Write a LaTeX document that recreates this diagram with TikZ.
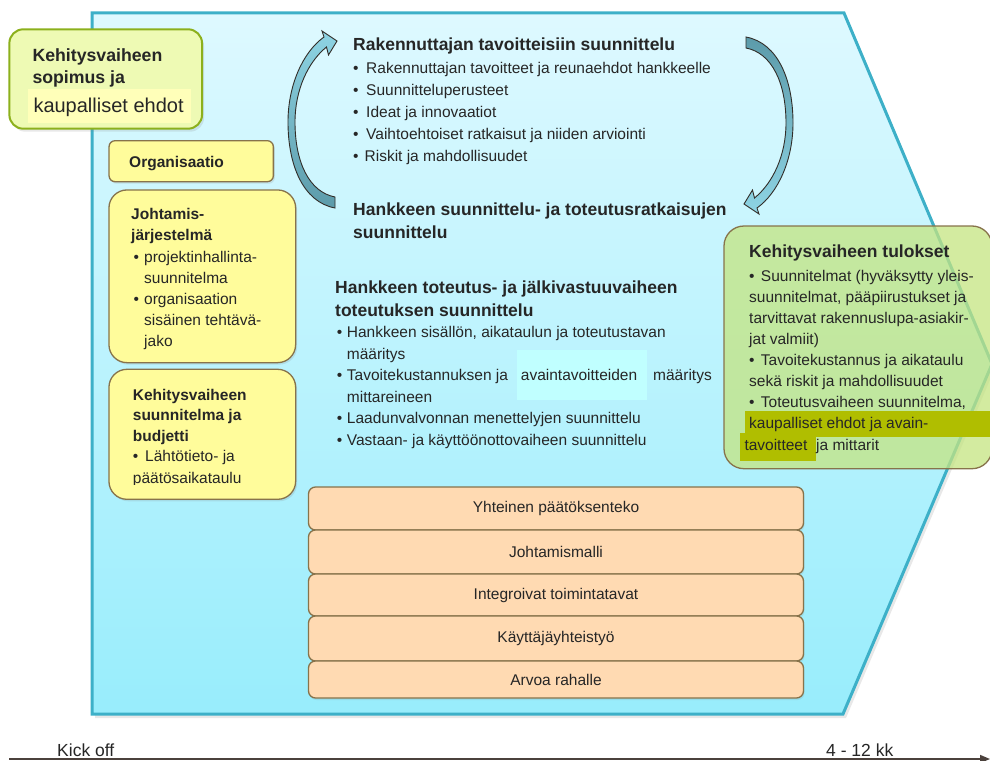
\documentclass[tikz,border=0pt]{standalone}
\usepackage{fontspec}
\setmainfont{Liberation Sans}
\usepackage{tikz}
\usetikzlibrary{positioning}
\usetikzlibrary{shadows}
\usetikzlibrary{arrows.meta}

\definecolor{chevline}{RGB}{61,176,200}
\definecolor{chevtop}{RGB}{222,249,255}
\definecolor{chevbot}{RGB}{152,237,252}
\definecolor{boxyellow}{RGB}{255,252,155}
\definecolor{boxbrown}{RGB}{135,115,75}
\definecolor{boxpeach}{RGB}{255,218,178}
\definecolor{limefill}{RGB}{238,250,180}
\definecolor{limeline}{RGB}{140,176,28}
\definecolor{resultfill}{RGB}{196,228,128}
\definecolor{olivemark}{RGB}{176,190,0}
\definecolor{cyanmark}{RGB}{192,255,255}
\definecolor{yellowmark}{RGB}{255,255,185}
\definecolor{arrowdark}{RGB}{92,155,170}
\definecolor{arrowlight}{RGB}{142,212,228}
\definecolor{arrowline}{RGB}{50,45,40}
\definecolor{textdark}{RGB}{38,38,38}
\definecolor{axisline}{RGB}{75,65,60}

\newcommand{\bul}[1][5pt]{\textbullet\hspace{#1}}

\begin{document}
\begin{tikzpicture}[x=1pt, y=-1pt,
        every node/.style = {text=textdark},
        txt/.style 2 args = {
            anchor=north west,
            inner sep=0pt,
            align=left,
            font=\fontsize{#1}{#2}\selectfont
        },
        bold/.style 2 args = {
            anchor=north west,
            inner sep=0pt,
            align=left,
            font=\bfseries\fontsize{#1}{#2}\selectfont
        },
        word/.style = {
            anchor=base west,
            inner sep=0pt,
            font=\fontsize{#1}{#1}\selectfont
        },
        word/.default = 15.5,
        boldword/.style = {
            word,
            font=\bfseries\fontsize{#1}{#1}\selectfont
        },
        boldword/.default = 17.5,
        yellowbox/.style = {
            draw=boxbrown,
            fill=boxyellow,
            line width=1.3pt,
            rounded corners=#1,
            inner sep=0pt,
            drop shadow={shadow xshift=1.5pt, shadow yshift=-2pt, opacity=0.18}
        },
        yellowbox/.default = 18pt,
        contractbox/.style = {
            draw=limeline,
            fill=limefill,
            line width=2pt,
            rounded corners=14pt,
            inner sep=0pt,
            drop shadow={shadow xshift=2pt, shadow yshift=-3pt, opacity=0.18}
        },
        resultbox/.style = {
            draw=boxbrown,
            fill=resultfill,
            fill opacity=0.75,
            line width=1.3pt,
            rounded corners=20pt,
            inner sep=0pt
        },
        peachbox/.style = {
            draw=boxbrown,
            fill=boxpeach,
            line width=1.3pt,
            rounded corners=7pt,
            minimum width=495pt,
            outer sep=0pt,
            inner sep=0pt,
            font=\fontsize{15.5}{18}\selectfont,
            drop shadow={shadow xshift=1pt, shadow yshift=-2pt, opacity=0.15}
        },
        loop/.style = {
            draw=arrowline,
            line width=0.9pt
        },
        node distance = 0pt
        ]
%
        \clip (0,0) rectangle (990,760);
%
% phase
        \path[draw=chevline, line width=3pt, top color=chevtop, bottom color=chevbot,
              drop shadow={shadow xshift=3pt, shadow yshift=-4pt, opacity=0.18}]
              (92,13) -- (844,13) -- (992,364) -- (843,714) -- (92,714) -- cycle;
%
% contract
        \node[contractbox, minimum width=192.7pt, minimum height=99.4pt] (contract) at (105.7,79) {};
        \fill[yellowmark] (28.3,89.3) rectangle (190.7,122.7);
        \node[bold={17.7}{21.6}] (contracthead) at (32.3,46.6) {\strut Kehitysvaiheen\\sopimus ja};
        \node[word=20] (contractterms) at (33.3,112.7) {kaupalliset ehdot};
%
% left column
        \node[yellowbox=6pt, minimum width=164.3pt, minimum height=41pt] (org) at (191.2,161.2) {};
        \node[boldword=15.5] (orgtext) at (129,167.3) {Organisaatio};
%
        \node[yellowbox, minimum width=186.7pt, minimum height=172.7pt] (mgmt) at (202.3,276.3) {};
        \node[bold={15.5}{21}] (mgmthead) at (131,204.6) {\strut Johtamis-\\järjestelmä};
        \node[txt={15.5}{21}] (mgmtlist) at (133.3,248) {\strut\bul[5.3pt]projektinhallinta-\\\phantom{\bul[5.3pt]}suunnitelma\\\bul[5.3pt]organisaation\\\phantom{\bul[5.3pt]}sisäinen tehtävä-\\\phantom{\bul[5.3pt]}jako};
%
        \node[yellowbox, minimum width=186.7pt, minimum height=130pt] (plan) at (202.3,434.3) {};
        \node[bold={15.5}{20.5}] (planhead) at (132.7,385.65) {\strut Kehitysvaiheen\\suunnitelma ja\\budjetti};
        \node[word] (planitem) at (132.7,461.7) {\bul[6.9pt]Lähtötieto- ja};
        \begin{scope}
            \clip (100,440) rectangle (300,484.3);
            \node[word] (planitem2) at (132.7,483.3) {päätösaikataulu};
        \end{scope}
%
% loop arrows
        \path[loop, top color=arrowlight, bottom color=arrowdark]
            (335,208) .. controls (303,202) and (288,165) .. (288,122)
            .. controls (288,85) and (303,52) .. (324,37)
            -- (322,31) -- (337,41) -- (328.5,55) -- (326.5,47)
            .. controls (308,62) and (295,90) .. (295,122)
            .. controls (295,162) and (309,192) .. (335,197) -- cycle;
        \path[loop, top color=arrowdark, bottom color=arrowlight]
            (746,37) .. controls (778,43) and (793,80) .. (793,123)
            .. controls (793,160) and (778,193) .. (757,208)
            -- (759,214) -- (744,204) -- (752.5,190) -- (754.5,198)
            .. controls (773,183) and (786,155) .. (786,123)
            .. controls (786,83) and (772,53) .. (746,48) -- cycle;
%
% middle texts
        \node[boldword] (goalhead) at (353,50.7) {Rakennuttajan tavoitteisiin suunnittelu};
        \node[txt={15.5}{22}] (goallist) at (353,57.9) {\strut\bul[7.6pt]Rakennuttajan tavoitteet ja reunaehdot hankkeelle\\\bul[7.6pt]Suunnitteluperusteet\\\bul[7.6pt]Ideat ja innovaatiot\\\bul[7.6pt]Vaihtoehtoiset ratkaisut ja niiden arviointi\\\bul[6pt]Riskit ja mahdollisuudet};
        \node[bold={17.5}{23}] (solutionhead) at (353,198.9) {\strut Hankkeen suunnittelu- ja toteutusratkaisujen\\suunnittelu};
%
        \node[bold={17.5}{23.4}] (deliveryhead) at (335,276.9) {\strut Hankkeen toteutus- ja jälkivastuuvaiheen\\toteutuksen suunnittelu};
        \node[txt={15.5}{21.5}] (deliverylist) at (336.7,322.25) {\strut\bul[4.6pt]Hankkeen sisällön, aikataulun ja toteutustavan\\\phantom{\bul[4.6pt]}määritys\\\bul[4.6pt]Tavoitekustannuksen ja\\\phantom{\bul[4.6pt]}mittareineen\\\bul[4.6pt]Laadunvalvonnan menettelyjen suunnittelu\\\bul[4.6pt]Vastaan- ja käyttöönottovaiheen suunnittelu};
        \node[fill=cyanmark, minimum width=130pt, minimum height=50pt, inner sep=0pt] (keymark) at (582,375) {};
        \node[word] (keygoals) at (520.7,380.3) {avaintavoitteiden};
        \node[word] (keydef) at (653,380.3) {määritys};
%
% results
        \node[resultbox, minimum width=268pt, minimum height=242.7pt] (result) at (858,347.35) {};
        \fill[olivemark] (745,410.7) rectangle (992,436.7);
        \fill[olivemark] (740,433.3) rectangle (816,460.7);
        \node[boldword] (resulthead) at (749,257.3) {Kehitysvaiheen tulokset};
        \node[txt={15.5}{21}] (resultlist) at (749,267) {\strut\bul[6.3pt]Suunnitelmat (hyväksytty yleis-\\suunnitelmat, pääpiirustukset ja\\tarvittavat rakennuslupa-asiakir-\\jat valmiit)\\\bul[6.3pt]Tavoitekustannus ja aikataulu\\sekä riskit ja mahdollisuudet\\\bul[6.3pt]Toteutusvaiheen suunnitelma,\\kaupalliset ehdot ja avain-};
        \node[word] (resultgoals) at (744.3,450.7) {tavoitteet};
        \node[word] (resultmetrics) at (816,450.7) {ja mittarit};
%
% principles
        \node[peachbox, minimum height=43pt] (decide) at (556,508.5) {Yhteinen päätöksenteko};
        \node[peachbox, minimum height=44pt, below=of decide] (lead) {Johtamismalli};
        \node[peachbox, minimum height=42pt, below=of lead] (integrate) {Integroivat toimintatavat};
        \node[peachbox, minimum height=45pt, below=of integrate] (users) {Käyttäjäyhteistyö};
        \node[peachbox, minimum height=37pt, below=of users] (value) {Arvoa rahalle};
%
% time axis
        \coordinate (start) at (9,759);
        \coordinate (end) at (990,759);
        \draw[axisline, line width=1.5pt, -{Triangle[length=10pt, width=8pt]}] (start) -- (end);
        \node[word=17.5] (kickoff) at (57,756.5) {Kick off};
        \node[word=17.5] (duration) at (826,756.5) {4 - 12 kk};
%
    \end{tikzpicture}
\end{document}
